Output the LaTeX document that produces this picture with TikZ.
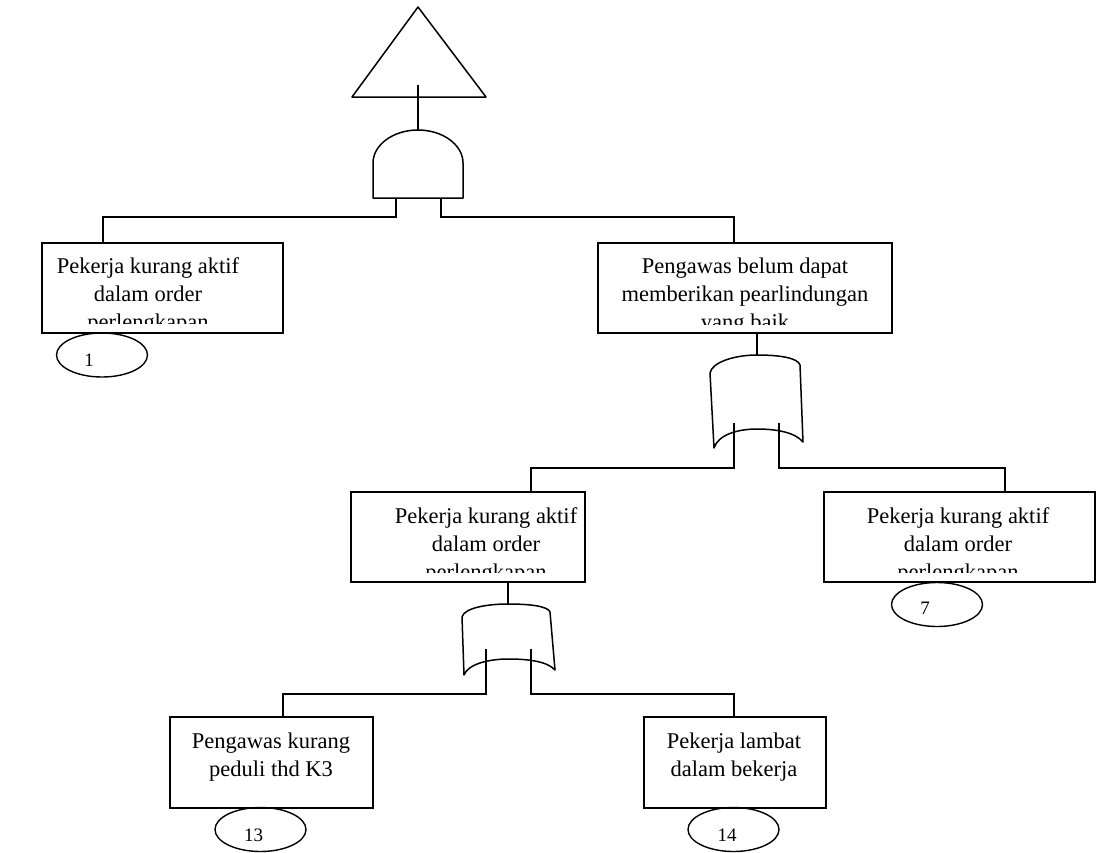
\documentclass[tikz,border=0pt]{standalone}
\usepackage{fontspec}
\setmainfont{Liberation Serif}
\usetikzlibrary{shapes.geometric}

\begin{document}
\begin{tikzpicture}[
  x=1pt,
  y=-1pt,
  every node/.style={font=\fontsize{22.5}{28}\selectfont},
  evbox/.style={
    draw,
    line width=1.5pt,
    inner sep=0pt,
    minimum height=90pt
  },
  evtext/.style={anchor=north, align=center, inner sep=0pt},
  basic/.style={
    draw,
    ellipse,
    line width=1.4pt,
    inner sep=0pt,
    minimum width=91pt,
    minimum height=44pt
  },
  num/.style={anchor=base, inner sep=0pt, font=\fontsize{19}{22}\selectfont},
  edge/.style={line width=1.5pt},
  gate/.style={line width=1.5pt, line join=round}
]
  \useasboundingbox (0,0) rectangle (1100,852);

  % top event and AND gate
  \draw[gate] (418,7) -- (486,97) -- (352,97) -- cycle;
  \coordinate (topin) at (418,85);
  \draw[gate] (373,198) -- (373,163) .. controls (373,145) and (393,130) .. (418,130)
    .. controls (443,130) and (463,145) .. (463,163) -- (463,198) -- cycle;
  \coordinate (andout) at (418,130);
  \coordinate (andinL) at (396,198);
  \coordinate (andinR) at (441,198);

  % OR gates
  \draw[gate] (710,373) .. controls (712,362) and (735,355) .. (757,355)
    .. controls (780,355) and (798,358) .. (800,365) -- (803,442)
    .. controls (795,432) and (775,429) .. (757,429)
    .. controls (737,429) and (718,435) .. (714,448) -- cycle;
  \coordinate (or1out) at (757,355);
  \coordinate (or1inL) at (734,423);
  \coordinate (or1inR) at (779,423);

  \draw[gate] (462,617) .. controls (464,608) and (487,604) .. (508,604)
    .. controls (529,604) and (548,606) .. (550,612) -- (555,670)
    .. controls (547,661) and (527,659) .. (508,659)
    .. controls (489,659) and (468,664) .. (464,675) -- cycle;
  \coordinate (or2out) at (508,604);
  \coordinate (or2inL) at (486,649);
  \coordinate (or2inR) at (531,649);

  % events
  \node[evbox, minimum width=241pt] (pk1) at (162.5,288) {};
  \begin{scope}
    \clip (42,243) rectangle (283,323);
    \node[evtext] (pk1txt) at (148,257.6) {Pekerja kurang aktif\\dalam order\\perlengkapan};
  \end{scope}
  \coordinate (pk1in) at (103,243);

  \node[evbox, minimum width=294pt] (pw1) at (745,288) {};
  \begin{scope}
    \clip (598,243) rectangle (892,324);
    \node[evtext] (pw1txt) at (745,257.6) {Pengawas belum dapat\\memberikan pearlindungan\\yang baik};
  \end{scope}
  \coordinate (pw1in) at (734,243);
  \coordinate (pw1out) at (757,333);

  \node[evbox, minimum width=234pt] (pk2) at (468,537) {};
  \begin{scope}
    \clip (351,492) rectangle (585,572);
    \node[evtext] (pk2txt) at (486,507.6) {Pekerja kurang aktif\\dalam order\\perlengkapan};
  \end{scope}
  \coordinate (pk2in) at (531,492);
  \coordinate (pk2out) at (508,582);

  \node[evbox, minimum width=271pt] (pk3) at (959.5,537) {};
  \begin{scope}
    \clip (824,492) rectangle (1095,572);
    \node[evtext] (pk3txt) at (958,507.6) {Pekerja kurang aktif\\dalam order\\perlengkapan};
  \end{scope}
  \coordinate (pk3in) at (1005,492);

  \node[evbox, minimum width=203pt, minimum height=91pt] (pw2) at (271.5,762.5) {};
  \node[evtext] (pw2txt) at (271,732.6) {Pengawas kurang\\peduli thd K3};
  \coordinate (pw2in) at (283,717);

  \node[evbox, minimum width=182pt, minimum height=91pt] (pl) at (735,762.5) {};
  \node[evtext] (pltxt) at (734,732.6) {Pekerja lambat\\dalam bekerja};
  \coordinate (plin) at (734,717);

  % basic events
  \node[basic] (b1) at (102,355) {};
  \node[num] (b1num) at (89,366) {1};
  \node[basic] (b7) at (937,604.5) {};
  \node[num] (b7num) at (925,614) {7};
  \node[basic] (b13) at (260.5,829.5) {};
  \node[num] (b13num) at (253.5,841) {13};
  \node[basic] (b14) at (733.5,829.5) {};
  \node[num] (b14num) at (727,841) {14};

  % connectors
  \draw[edge] (topin) -- (andout);
  \draw[edge] (andinL) -- ++(0,19) -| (pk1in);
  \draw[edge] (andinR) -- ++(0,19) -| (pw1in);
  \draw[edge] (pw1out) -- (or1out);
  \draw[edge] (or1inL) -- ++(0,45) -| (pk2in);
  \draw[edge] (or1inR) -- ++(0,45) -| (pk3in);
  \draw[edge] (pk2out) -- (or2out);
  \draw[edge] (or2inL) -- ++(0,45) -| (pw2in);
  \draw[edge] (or2inR) -- ++(0,45) -| (plin);
\end{tikzpicture}
\end{document}
